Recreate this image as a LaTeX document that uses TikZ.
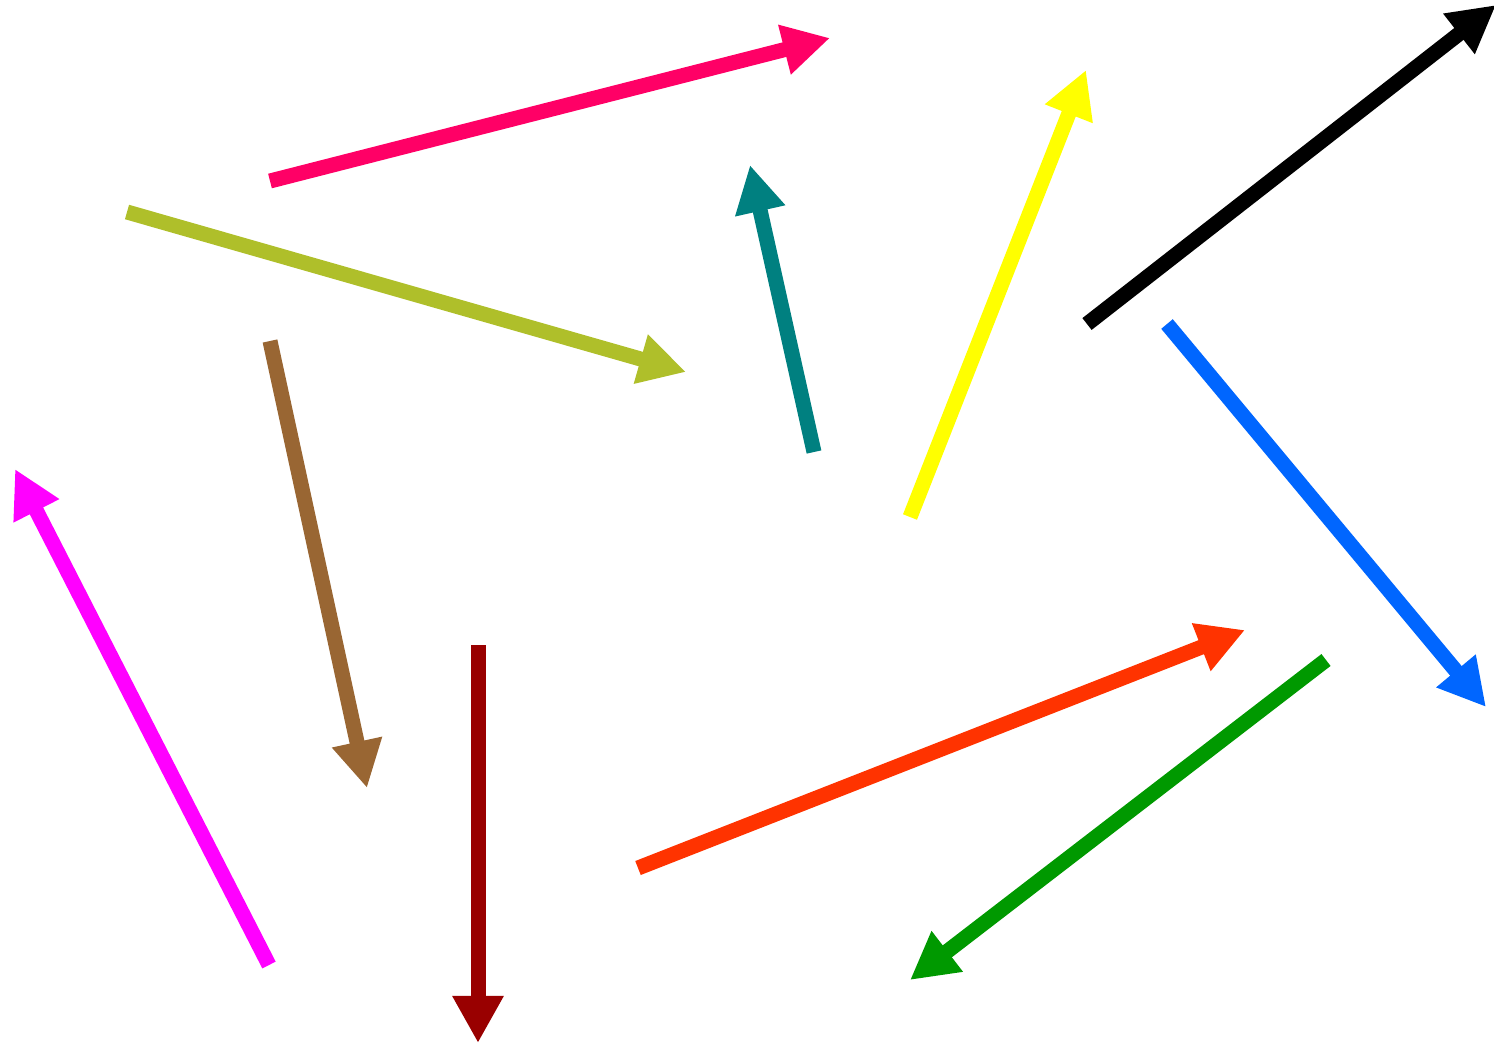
\documentclass[tikz,border=0pt]{standalone}
\usepackage{tikz}
\usetikzlibrary{arrows.meta}

\definecolor{cpink}{HTML}{FF0066}
\definecolor{colive}{HTML}{AFBF2A}
\definecolor{cbrown}{HTML}{996633}
\definecolor{cmagenta}{HTML}{FF00FF}
\definecolor{cdarkred}{HTML}{990000}
\definecolor{cteal}{HTML}{008080}
\definecolor{cyellow}{HTML}{FFFF00}
\definecolor{cblue}{HTML}{0066FF}
\definecolor{corange}{HTML}{FF3300}
\definecolor{cgreen}{HTML}{009900}

\begin{document}
\begin{tikzpicture}[x=0.01cm, y=-0.01cm]
        \tikzstyle{arrow} = [-{Triangle[length=0.47cm, width=0.48cm]}, line width=0.15cm]
        \useasboundingbox (0,0) rectangle (1494,1045);
        % start and tip of every arrow
        \coordinate (pinkA) at (270,181); \coordinate (pinkB) at (830,38);
        \coordinate (oliveA) at (127,212); \coordinate (oliveB) at (686,372);
        \coordinate (brownA) at (270,341); \coordinate (brownB) at (367,788);
        \coordinate (magA) at (269,965); \coordinate (magB) at (15,469);
        \coordinate (redA) at (478,645); \coordinate (redB) at (478,1043);
        \coordinate (tealA) at (814,452); \coordinate (tealB) at (750,165);
        \coordinate (yelA) at (910,517); \coordinate (yelB) at (1086,70);
        \coordinate (blackA) at (1087,324); \coordinate (blackB) at (1496,5);
        \coordinate (blueA) at (1167,324); \coordinate (blueB) at (1486,707);
        \coordinate (orA) at (638,868); \coordinate (orB) at (1245,630);
        \coordinate (grA) at (1326,660); \coordinate (grB) at (910,980);
        \draw[arrow, cpink] (pinkA)--(pinkB);
        \draw[arrow, colive] (oliveA)--(oliveB);
        \draw[arrow, cbrown] (brownA)--(brownB);
        \draw[arrow, cmagenta] (magA)--(magB);
        \draw[arrow, cdarkred] (redA)--(redB);
        \draw[arrow, cteal] (tealA)--(tealB);
        \draw[arrow, cyellow] (yelA)--(yelB);
        \draw[arrow, black] (blackA)--(blackB);
        \draw[arrow, cblue] (blueA)--(blueB);
        \draw[arrow, corange] (orA)--(orB);
        \draw[arrow, cgreen] (grA)--(grB);
    \end{tikzpicture}
\end{document}
